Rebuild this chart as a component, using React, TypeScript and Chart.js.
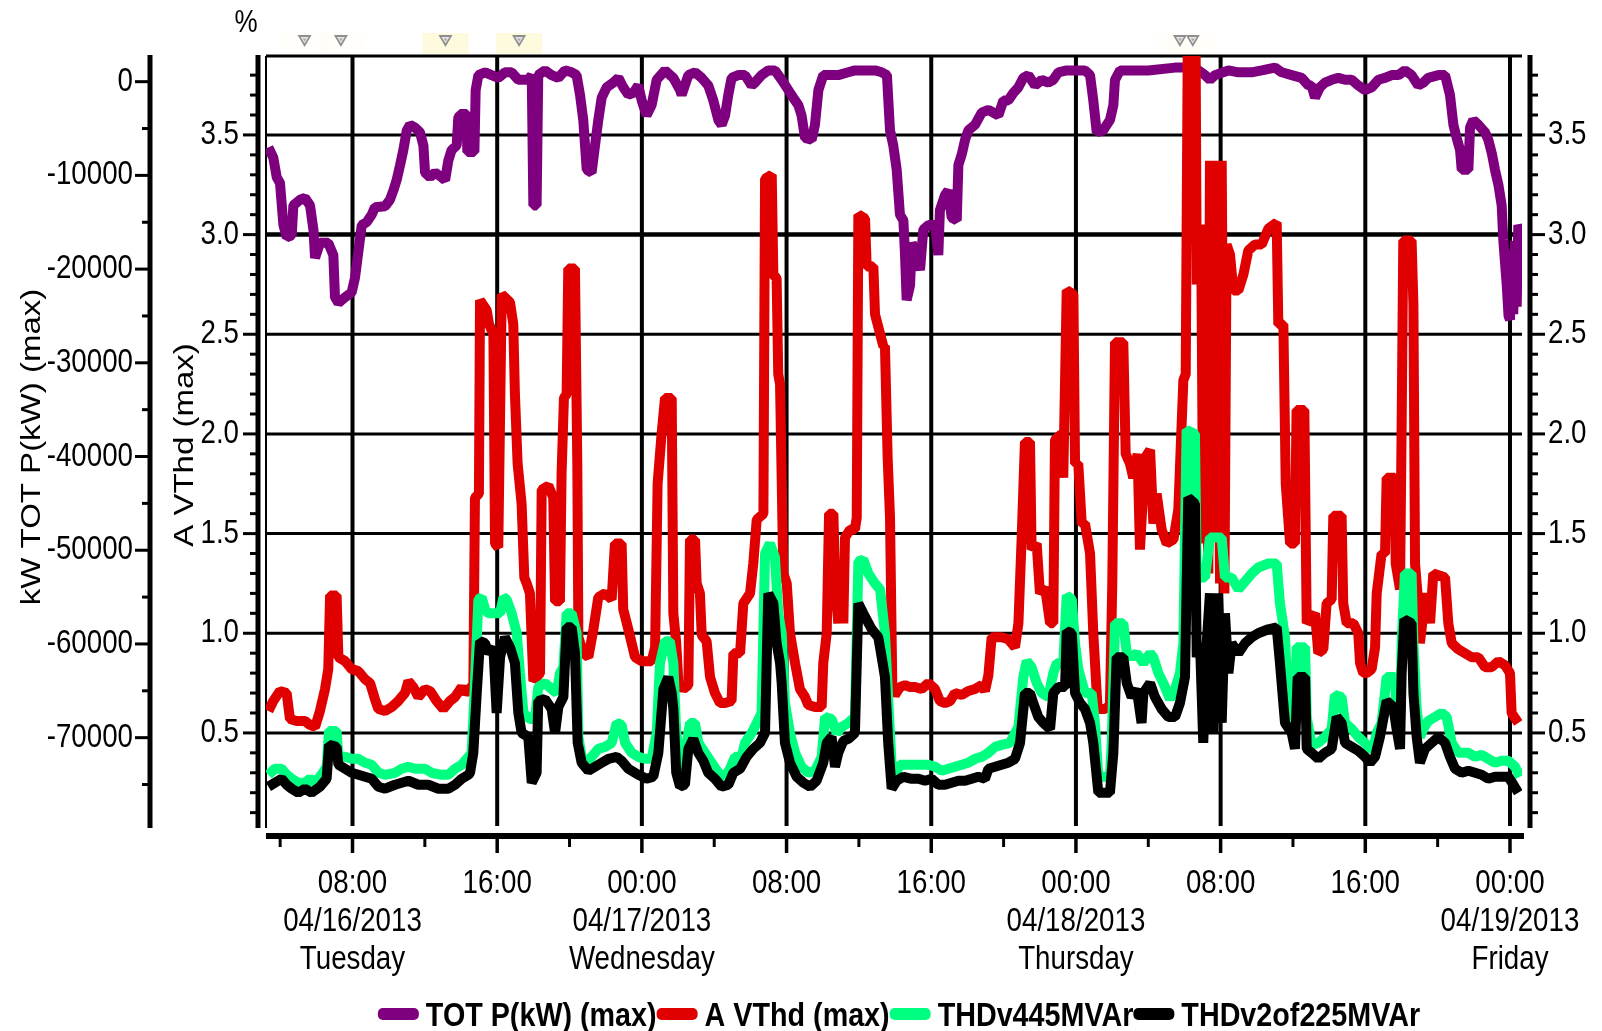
import React, { useEffect, useRef } from 'react';
import { Chart, registerables } from 'chart.js';

Chart.register(...registerables);

// Time values are hours counted from 04/16/2013 00:00.
const startYear = 2013;
const startMonth = 4;
const startDay = 16;
const weekdayNames = ['Sunday', 'Monday', 'Tuesday', 'Wednesday', 'Thursday', 'Friday', 'Saturday'];

const hourRange = [3.217, 72.664];
const kwRange = [-79640, 2740];
const pctRange = [0.023, 3.896];

const kwTickValues = [0, -10000, -20000, -30000, -40000, -50000, -60000, -70000];
const pctTickValues = [0.5, 1.0, 1.5, 2.0, 2.5, 3.0, 3.5];

const eventHours = [5.35, 7.36, 13.14, 17.21, 53.75, 54.46];
const eventHighlight = [0.12, 0.12, 1, 1, 0.15, 0.15];

const seriesNames = ['TOT P(kW) (max)', 'A VThd (max)', 'THDv445MVAr', 'THDv2of225MVAr'];
const seriesColors = ['#7f007f', '#e00000', '#00ff80', '#000000'];
const seriesWidth = 10;

// TOT P(kW) (max): [hour, kW]
const powerSamples: [number, number][] = [
  [3.35, -7000], [3.62, -8100], [3.81, -10200], [3.99, -10800], [4.18, -15300], [4.36, -16600],
  [4.64, -16400], [4.73, -13200], [5.10, -12600], [5.37, -12400], [5.65, -13200], [5.84, -15800],
  [5.93, -18800], [6.20, -17200], [6.66, -17200], [6.94, -18500], [7.03, -23000], [7.22, -23600],
  [7.59, -23000], [7.95, -22500], [8.14, -20900], [8.32, -18200], [8.51, -15300], [8.78, -15000],
  [9.06, -14200], [9.24, -13400], [9.80, -13300], [10.07, -12600], [10.26, -11600], [10.44, -10500],
  [10.63, -8900], [10.81, -7300], [11.00, -5200], [11.18, -4600], [11.46, -4900], [11.73, -5400],
  [11.92, -6800], [12.01, -9700], [12.29, -10200], [12.56, -9700], [12.93, -10200], [13.12, -10500],
  [13.30, -8400], [13.48, -7300], [13.76, -6800], [13.85, -3800], [14.13, -3300], [14.30, -3600],
  [14.35, -7500], [14.74, -7500], [14.81, -900], [14.96, 700], [15.33, 1000], [15.69, 700],
  [16.06, 400], [16.43, 1000], [16.80, 1000], [17.17, 200], [17.72, 200], [17.91, 700],
  [18.00, -13200], [18.18, -13200], [18.27, 700], [18.64, 1200], [19.01, 700], [19.38, 400],
  [19.75, 1200], [20.12, 1000], [20.39, 700], [20.58, -1400], [20.76, -4100], [20.95, -9400],
  [21.22, -9700], [21.41, -6800], [21.59, -4100], [21.78, -1700], [22.05, -600], [22.42, -100],
  [22.70, 400], [22.97, -600], [23.25, -1400], [23.53, -1200], [23.80, -400], [23.99, -2000],
  [24.26, -3600], [24.54, -2500], [24.82, 200], [25.28, 1200], [25.74, 400], [26.11, -900],
  [26.20, -1400], [26.57, 700], [26.94, 1000], [27.31, 400], [27.67, -400], [27.95, -2000],
  [28.23, -4100], [28.41, -4600], [28.60, -3600], [28.78, -1400], [28.96, 400], [29.33, 700],
  [29.70, 700], [30.07, -400], [30.25, -100], [30.62, 700], [30.99, 1200], [31.36, 1200],
  [31.73, 200], [32.10, -900], [32.47, -2000], [32.65, -2500], [32.83, -3600], [33.02, -6000],
  [33.39, -6200], [33.57, -4600], [33.76, -900], [34.03, 700], [34.49, 700], [34.86, 700],
  [35.41, 1000], [35.78, 1200], [36.15, 1200], [36.89, 1200], [37.26, 1000], [37.55, 700],
  [37.72, -5200], [37.90, -6800], [38.09, -9400], [38.27, -14200], [38.46, -14800], [38.55, -18500],
  [38.64, -23300], [38.83, -21700], [38.92, -17200], [39.19, -18500], [39.38, -20100], [39.56, -15800],
  [39.84, -15300], [40.21, -15300], [40.39, -18500], [40.48, -13700], [40.76, -12100], [40.94, -11600],
  [41.13, -14500], [41.41, -14800], [41.50, -8900], [41.68, -7800], [41.87, -6200], [42.05, -5200],
  [42.42, -4600], [42.79, -3300], [43.16, -3000], [43.71, -3600], [43.99, -2000], [44.26, -2000],
  [44.54, -1200], [44.82, -600], [45.09, 400], [45.37, 700], [45.74, -400], [46.11, 200],
  [46.47, -100], [46.75, 200], [47.03, 1000], [47.49, 1200], [47.95, 1200], [48.50, 1200],
  [48.78, 700], [48.96, -2000], [49.15, -5400], [49.50, -5200], [49.88, -4100], [50.07, -2500],
  [50.16, 200], [50.44, 1200], [50.90, 1200], [52.00, 1200], [53.48, 1500], [54.21, 1500],
  [54.77, 1200], [55.14, 700], [55.41, 200], [55.69, 700], [56.43, 1200], [56.98, 1000],
  [57.72, 1000], [58.27, 1200], [59.01, 1500], [59.38, 1000], [59.93, 700], [60.48, 400],
  [60.85, -400], [61.03, -400], [61.22, -1700], [61.49, -600], [61.77, -100], [62.14, 200],
  [62.51, 400], [62.88, 200], [63.25, 200], [63.61, -400], [63.98, -900], [64.35, -600],
  [64.72, 200], [65.09, 400], [65.46, 700], [65.83, 700], [66.19, 1200], [66.56, 700],
  [66.93, -400], [67.21, -100], [67.48, 400], [68.04, 700], [68.41, 700], [68.68, -1400],
  [68.87, -4600], [69.05, -6000], [69.24, -7300], [69.33, -9400], [69.70, -9400], [69.79, -4900],
  [69.97, -4100], [70.25, -4600], [70.62, -5400], [70.80, -6200], [70.99, -7600], [71.17, -9400],
  [71.36, -11000], [71.54, -13200], [71.63, -16900], [71.82, -21700], [71.92, -25000], [72.00, -25400],
  [72.09, -18000], [72.18, -24800], [72.28, -17000], [72.37, -24000], [72.46, -15300], [72.55, -15800],
];

// A VThd (max): [hour, %]
const vthdSamples: [number, number][] = [
  [3.35, 0.61], [3.62, 0.66], [3.99, 0.71], [4.36, 0.70], [4.54, 0.57], [4.91, 0.56],
  [5.37, 0.56], [5.65, 0.54], [5.93, 0.53], [6.20, 0.61], [6.48, 0.72], [6.66, 0.82],
  [6.76, 1.19], [7.12, 1.19], [7.22, 0.88], [7.59, 0.86], [7.95, 0.82], [8.32, 0.81],
  [8.69, 0.77], [8.97, 0.75], [9.24, 0.67], [9.43, 0.62], [9.80, 0.61], [10.17, 0.63],
  [10.53, 0.66], [10.90, 0.70], [11.09, 0.76], [11.36, 0.73], [11.64, 0.68], [12.01, 0.72],
  [12.29, 0.71], [12.65, 0.66], [13.02, 0.62], [13.39, 0.66], [13.67, 0.68], [14.04, 0.73],
  [14.22, 0.70], [14.68, 0.74], [14.77, 1.68], [14.99, 1.70], [15.05, 2.67], [15.42, 2.62],
  [15.55, 2.55], [15.79, 2.50], [15.88, 1.45], [16.06, 1.43], [16.25, 2.70], [16.71, 2.66],
  [16.89, 2.55], [16.98, 2.20], [17.13, 1.85], [17.35, 1.65], [17.50, 1.28], [17.63, 1.25],
  [17.81, 1.20], [18.00, 0.76], [18.37, 0.80], [18.46, 1.72], [18.83, 1.74], [19.10, 1.68],
  [19.20, 1.16], [19.47, 1.16], [19.56, 1.80], [19.69, 2.18], [19.84, 2.20], [19.93, 2.83],
  [20.30, 2.83], [20.43, 1.85], [20.49, 0.98], [20.76, 0.90], [21.04, 0.88], [21.32, 1.02],
  [21.59, 1.18], [21.96, 1.20], [22.33, 1.17], [22.51, 1.45], [22.88, 1.45], [22.97, 1.12],
  [23.25, 1.02], [23.62, 0.88], [23.99, 0.86], [24.54, 0.86], [24.73, 0.93], [24.87, 1.75],
  [25.09, 2.00], [25.28, 2.18], [25.65, 2.18], [25.74, 1.10], [25.90, 0.95], [26.02, 0.75],
  [26.29, 0.72], [26.57, 0.74], [26.66, 1.47], [26.94, 1.47], [27.03, 1.25], [27.21, 1.20],
  [27.31, 0.99], [27.58, 0.96], [27.77, 0.78], [28.04, 0.70], [28.32, 0.65], [28.60, 0.65],
  [28.96, 0.66], [29.06, 0.90], [29.43, 0.90], [29.61, 1.15], [29.98, 1.20], [30.16, 1.35],
  [30.35, 1.57], [30.72, 1.60], [30.81, 3.28], [31.18, 3.30], [31.27, 2.80], [31.45, 2.78],
  [31.54, 2.30], [31.64, 2.25], [31.82, 1.30], [32.01, 1.25], [32.19, 1.00], [32.47, 0.85],
  [32.74, 0.72], [33.02, 0.68], [33.20, 0.64], [33.57, 0.63], [33.94, 0.63], [34.03, 0.85],
  [34.22, 1.00], [34.35, 1.60], [34.59, 1.60], [34.68, 1.25], [34.86, 1.05], [34.95, 1.35],
  [35.14, 1.05], [35.23, 1.48], [35.51, 1.52], [35.78, 1.52], [35.88, 1.58], [35.97, 3.10],
  [36.34, 3.08], [36.43, 2.84], [36.80, 2.84], [36.89, 2.60], [37.35, 2.44], [37.44, 2.44],
  [37.59, 1.88], [37.72, 1.58], [37.85, 0.72], [37.99, 0.69], [38.27, 0.73], [38.55, 0.74],
  [38.83, 0.73], [39.10, 0.73], [39.47, 0.72], [39.84, 0.75], [40.21, 0.72], [40.48, 0.66],
  [40.76, 0.65], [41.04, 0.66], [41.31, 0.70], [41.68, 0.69], [42.05, 0.71], [42.42, 0.72],
  [42.79, 0.74], [42.97, 0.71], [43.16, 0.79], [43.34, 0.98], [43.89, 0.98], [44.26, 0.97],
  [44.63, 0.93], [44.82, 1.05], [45.00, 1.48], [45.18, 1.96], [45.46, 1.96], [45.55, 1.42],
  [45.83, 1.45], [46.01, 1.20], [46.29, 1.23], [46.57, 1.05], [46.75, 1.05], [46.84, 1.97],
  [47.21, 2.00], [47.30, 1.78], [47.49, 2.72], [47.86, 2.70], [47.95, 1.85], [48.13, 1.85],
  [48.32, 1.55], [48.50, 1.55], [48.78, 1.40], [48.96, 1.00], [49.20, 0.62], [49.61, 0.62],
  [49.88, 0.64], [50.01, 1.25], [50.16, 2.46], [50.62, 2.46], [50.75, 1.90], [50.99, 1.85],
  [51.17, 1.78], [51.41, 1.90], [51.54, 1.42], [51.82, 1.88], [52.10, 1.92], [52.28, 1.55],
  [52.46, 1.70], [52.74, 1.52], [53.02, 1.45], [53.39, 1.47], [53.66, 1.62], [53.94, 2.27],
  [54.07, 2.30], [54.18, 3.90], [54.62, 3.90], [54.68, 2.75], [54.92, 3.05], [55.04, 1.45],
  [55.14, 3.04], [55.32, 1.30], [55.41, 3.37], [55.60, 1.50], [55.78, 3.37], [55.97, 1.25],
  [56.06, 3.37], [56.21, 1.20], [56.33, 2.95], [56.52, 2.90], [56.70, 2.72], [56.98, 2.72],
  [57.26, 2.80], [57.53, 2.92], [57.90, 2.95], [58.27, 2.95], [58.64, 3.03], [59.10, 3.06],
  [59.19, 2.55], [59.47, 2.55], [59.60, 1.75], [59.84, 1.45], [60.11, 1.45], [60.20, 2.12],
  [60.63, 2.12], [60.76, 1.05], [61.22, 1.10], [61.40, 0.90], [61.68, 0.92], [61.86, 1.15],
  [62.14, 1.17], [62.23, 1.59], [62.69, 1.59], [62.78, 1.15], [62.97, 1.05], [63.34, 1.05],
  [63.61, 1.00], [63.71, 0.85], [63.89, 0.80], [64.08, 0.80], [64.35, 0.82], [64.54, 0.93],
  [64.63, 1.20], [64.90, 1.40], [65.09, 1.40], [65.18, 1.78], [65.64, 1.78], [65.68, 1.35],
  [65.92, 1.22], [66.01, 2.05], [66.10, 2.97], [66.56, 2.97], [66.66, 2.65], [66.75, 1.35],
  [66.93, 1.15], [67.02, 0.95], [67.21, 1.10], [67.39, 1.20], [67.58, 1.05], [67.76, 1.30],
  [68.41, 1.28], [68.59, 1.05], [68.78, 0.95], [69.14, 0.92], [69.51, 0.90], [69.88, 0.88],
  [70.25, 0.88], [70.62, 0.83], [70.99, 0.83], [71.36, 0.86], [71.72, 0.84], [72.00, 0.80],
  [72.09, 0.60], [72.46, 0.55],
];

// THDv445MVAr: [hour, %]
const thd445Samples: [number, number][] = [
  [3.35, 0.29], [3.71, 0.32], [4.08, 0.32], [4.36, 0.29], [4.64, 0.27], [5.00, 0.25],
  [5.37, 0.25], [5.65, 0.27], [5.93, 0.25], [6.29, 0.29], [6.57, 0.33], [6.70, 0.51],
  [7.12, 0.51], [7.22, 0.38], [7.59, 0.38], [7.95, 0.37], [8.32, 0.37], [8.69, 0.35],
  [9.06, 0.34], [9.43, 0.30], [9.80, 0.29], [10.35, 0.30], [10.72, 0.32], [11.09, 0.33],
  [11.46, 0.32], [12.01, 0.32], [12.38, 0.30], [12.93, 0.29], [13.30, 0.29], [13.67, 0.32],
  [14.04, 0.34], [14.41, 0.38], [14.59, 0.40], [14.77, 0.75], [14.96, 1.17], [15.14, 1.18],
  [15.33, 1.12], [15.51, 1.10], [15.88, 1.10], [16.16, 1.10], [16.34, 1.18], [16.52, 1.17],
  [16.80, 1.10], [17.08, 1.00], [17.26, 0.80], [17.45, 0.60], [17.81, 0.57], [18.09, 0.57],
  [18.27, 0.73], [18.64, 0.75], [19.01, 0.72], [19.29, 0.70], [19.47, 0.80], [19.66, 0.83],
  [19.84, 1.10], [20.12, 1.10], [20.39, 1.00], [20.49, 0.48], [20.67, 0.38], [20.95, 0.36],
  [21.22, 0.38], [21.59, 0.42], [21.96, 0.43], [22.33, 0.45], [22.61, 0.55], [22.88, 0.54],
  [23.07, 0.45], [23.44, 0.40], [23.80, 0.38], [24.17, 0.37], [24.54, 0.37], [24.82, 0.50],
  [25.00, 0.85], [25.28, 0.96], [25.55, 0.96], [25.74, 0.85], [25.90, 0.50], [26.11, 0.34],
  [26.29, 0.33], [26.48, 0.45], [26.66, 0.55], [26.94, 0.55], [27.12, 0.45], [27.49, 0.40],
  [27.86, 0.35], [28.23, 0.30], [28.60, 0.28], [28.87, 0.32], [29.15, 0.38], [29.52, 0.38],
  [29.70, 0.45], [30.07, 0.50], [30.35, 0.55], [30.62, 0.60], [30.81, 1.40], [31.08, 1.45],
  [31.36, 1.38], [31.54, 1.10], [31.73, 1.00], [31.91, 0.65], [32.19, 0.50], [32.47, 0.40],
  [32.83, 0.33], [33.20, 0.30], [33.57, 0.31], [33.94, 0.38], [34.13, 0.58], [34.49, 0.57],
  [34.77, 0.50], [35.05, 0.53], [35.41, 0.55], [35.78, 0.58], [35.97, 1.36], [36.24, 1.37],
  [36.52, 1.30], [36.89, 1.25], [37.17, 1.22], [37.44, 1.00], [37.66, 0.60], [37.81, 0.34],
  [37.99, 0.29], [38.27, 0.34], [38.73, 0.34], [39.29, 0.34], [39.84, 0.34], [40.21, 0.33],
  [40.58, 0.31], [40.94, 0.32], [41.31, 0.33], [41.68, 0.34], [42.05, 0.35], [42.42, 0.37],
  [42.79, 0.38], [43.16, 0.40], [43.53, 0.43], [43.89, 0.44], [44.35, 0.45], [44.82, 0.53],
  [45.09, 0.78], [45.28, 0.86], [45.55, 0.83], [45.83, 0.75], [46.11, 0.70], [46.47, 0.68],
  [46.75, 0.80], [46.94, 0.85], [47.30, 0.85], [47.49, 1.19], [47.77, 1.17], [47.95, 0.95],
  [48.13, 0.82], [48.50, 0.70], [48.87, 0.70], [49.05, 0.55], [49.24, 0.28], [49.88, 0.28],
  [49.98, 0.45], [50.16, 1.05], [50.62, 1.05], [50.81, 0.90], [51.08, 0.88], [51.36, 0.90],
  [51.73, 0.85], [52.10, 0.90], [52.28, 0.88], [52.56, 0.80], [52.83, 0.75], [53.20, 0.67],
  [53.48, 0.72], [53.75, 0.80], [53.94, 0.95], [54.12, 2.02], [54.58, 2.00], [54.68, 1.28],
  [55.14, 1.28], [55.41, 1.48], [56.06, 1.48], [56.24, 1.28], [56.61, 1.28], [56.98, 1.22],
  [57.35, 1.26], [57.72, 1.30], [58.08, 1.33], [58.64, 1.35], [59.10, 1.35], [59.28, 1.15],
  [59.56, 0.98], [59.74, 0.62], [60.11, 0.55], [60.20, 0.93], [60.67, 0.93], [60.76, 0.58],
  [61.03, 0.44], [61.40, 0.45], [61.77, 0.48], [62.14, 0.52], [62.32, 0.69], [62.69, 0.68],
  [62.88, 0.55], [63.25, 0.52], [63.61, 0.48], [63.98, 0.45], [64.26, 0.42], [64.44, 0.42],
  [64.63, 0.50], [64.90, 0.55], [65.18, 0.78], [65.64, 0.78], [65.73, 0.60], [65.92, 0.55],
  [66.01, 0.95], [66.19, 1.30], [66.56, 1.30], [66.66, 0.95], [66.84, 0.62], [67.02, 0.48],
  [67.21, 0.52], [67.48, 0.56], [67.85, 0.58], [68.22, 0.60], [68.50, 0.58], [68.78, 0.45],
  [69.14, 0.40], [69.70, 0.40], [70.07, 0.38], [70.43, 0.39], [70.80, 0.37], [71.17, 0.35],
  [71.54, 0.36], [71.91, 0.36], [72.28, 0.33], [72.55, 0.28],
];

// THDv2of225MVAr: [hour, %]
const thd225Samples: [number, number][] = [
  [3.35, 0.23], [3.71, 0.25], [4.08, 0.27], [4.36, 0.24], [4.64, 0.22], [5.00, 0.20],
  [5.37, 0.22], [5.74, 0.20], [6.20, 0.23], [6.57, 0.27], [6.70, 0.44], [7.12, 0.43],
  [7.22, 0.34], [7.59, 0.32], [7.95, 0.30], [8.32, 0.29], [8.69, 0.28], [9.06, 0.27],
  [9.43, 0.23], [9.80, 0.22], [10.35, 0.24], [10.72, 0.25], [11.09, 0.26], [11.64, 0.24],
  [12.19, 0.24], [12.75, 0.22], [13.30, 0.22], [13.67, 0.24], [14.04, 0.27], [14.41, 0.29],
  [14.50, 0.30], [14.68, 0.40], [14.87, 0.70], [15.05, 0.96], [15.33, 0.95], [15.51, 0.90],
  [15.79, 0.93], [15.97, 0.60], [16.16, 0.88], [16.43, 0.98], [16.71, 0.93], [16.98, 0.85],
  [17.17, 0.60], [17.35, 0.50], [17.72, 0.48], [17.91, 0.25], [18.18, 0.30], [18.27, 0.66],
  [18.64, 0.67], [19.01, 0.62], [19.20, 0.50], [19.38, 0.63], [19.66, 0.68], [19.84, 1.03],
  [20.12, 1.03], [20.30, 0.90], [20.45, 0.45], [20.67, 0.35], [21.04, 0.31], [21.41, 0.33],
  [21.78, 0.35], [22.15, 0.37], [22.61, 0.38], [22.88, 0.36], [23.25, 0.32], [23.80, 0.29],
  [24.26, 0.27], [24.63, 0.28], [24.91, 0.40], [25.19, 0.72], [25.46, 0.78], [25.65, 0.70],
  [25.74, 0.62], [25.90, 0.30], [26.11, 0.23], [26.38, 0.24], [26.57, 0.42], [26.84, 0.47],
  [27.12, 0.40], [27.40, 0.36], [27.67, 0.30], [28.04, 0.27], [28.41, 0.23], [28.78, 0.24],
  [29.06, 0.30], [29.43, 0.32], [29.79, 0.38], [30.16, 0.42], [30.53, 0.45], [30.81, 0.50],
  [30.99, 1.20], [31.27, 1.15], [31.45, 0.95], [31.64, 0.85], [31.73, 0.75], [31.91, 0.45],
  [32.19, 0.35], [32.56, 0.28], [32.93, 0.25], [33.30, 0.23], [33.66, 0.26], [34.03, 0.35],
  [34.22, 0.45], [34.49, 0.48], [34.68, 0.33], [34.86, 0.40], [35.14, 0.46], [35.41, 0.47],
  [35.78, 0.50], [35.97, 1.15], [36.24, 1.10], [36.71, 1.02], [37.07, 0.98], [37.26, 0.88],
  [37.44, 0.78], [37.62, 0.45], [37.81, 0.22], [38.09, 0.26], [38.46, 0.28], [38.92, 0.27],
  [39.29, 0.27], [39.66, 0.26], [40.02, 0.27], [40.39, 0.24], [40.76, 0.24], [41.13, 0.25],
  [41.50, 0.26], [41.87, 0.26], [42.24, 0.27], [42.60, 0.28], [42.97, 0.27], [43.16, 0.32],
  [43.53, 0.33], [43.89, 0.34], [44.26, 0.35], [44.63, 0.37], [44.91, 0.45], [45.18, 0.70],
  [45.46, 0.70], [45.64, 0.65], [45.92, 0.58], [46.20, 0.55], [46.57, 0.52], [46.75, 0.70],
  [47.03, 0.73], [47.40, 0.73], [47.49, 1.01], [47.77, 1.00], [47.95, 0.70], [48.23, 0.65],
  [48.50, 0.62], [48.78, 0.55], [48.96, 0.45], [49.24, 0.20], [49.88, 0.20], [50.07, 0.40],
  [50.25, 0.88], [50.62, 0.88], [50.81, 0.75], [51.08, 0.68], [51.36, 0.72], [51.63, 0.55],
  [51.73, 0.70], [52.10, 0.75], [52.37, 0.68], [52.74, 0.62], [53.11, 0.58], [53.48, 0.58],
  [53.75, 0.65], [54.03, 0.78], [54.21, 1.68], [54.58, 1.65], [54.68, 0.88], [54.86, 0.95],
  [55.04, 0.45], [55.23, 0.95], [55.41, 1.20], [55.60, 0.50], [55.87, 1.20], [56.06, 0.55],
  [56.24, 1.10], [56.43, 0.80], [56.61, 0.95], [56.98, 0.90], [57.35, 0.95], [57.72, 0.98],
  [58.08, 1.00], [58.64, 1.02], [59.10, 1.03], [59.28, 0.85], [59.56, 0.55], [59.93, 0.50],
  [60.11, 0.42], [60.26, 0.78], [60.67, 0.78], [60.76, 0.42], [61.03, 0.40], [61.40, 0.37],
  [61.77, 0.40], [62.14, 0.42], [62.42, 0.58], [62.69, 0.55], [62.88, 0.45], [63.25, 0.43],
  [63.61, 0.41], [63.98, 0.38], [64.26, 0.35], [64.54, 0.38], [64.81, 0.48], [65.18, 0.66],
  [65.55, 0.63], [65.73, 0.52], [65.92, 0.42], [66.01, 0.80], [66.16, 1.07], [66.56, 1.05],
  [66.66, 0.70], [66.84, 0.48], [67.02, 0.35], [67.30, 0.42], [67.67, 0.45], [68.04, 0.48],
  [68.41, 0.45], [68.68, 0.38], [68.96, 0.32], [69.33, 0.30], [69.70, 0.31], [70.07, 0.30],
  [70.43, 0.29], [70.80, 0.27], [71.17, 0.28], [71.54, 0.28], [71.91, 0.28], [72.19, 0.24],
  [72.46, 0.20],
];

const FONT = "'Liberation Sans', Arimo, Arial, sans-serif";
const SQUEEZE = 0.84;

function drawText(ctx: CanvasRenderingContext2D, text: string, x: number, y: number, size: number,
  align: CanvasTextAlign, baseline: CanvasTextBaseline = 'alphabetic', bold = false, sx = SQUEEZE) {
  ctx.save();
  ctx.translate(x, y);
  ctx.scale(sx, 1);
  ctx.font = `${bold ? 'bold ' : ''}${size}px ${FONT}`;
  ctx.textAlign = align;
  ctx.textBaseline = baseline;
  ctx.fillStyle = '#000';
  ctx.fillText(text, 0, 0);
  ctx.restore();
}

function drawVerticalText(ctx: CanvasRenderingContext2D, text: string, x: number, y: number, size: number) {
  ctx.save();
  ctx.translate(x, y);
  ctx.scale(SQUEEZE, 1);
  ctx.rotate(-Math.PI / 2);
  ctx.font = `${size}px ${FONT}`;
  ctx.textAlign = 'center';
  ctx.textBaseline = 'alphabetic';
  ctx.fillStyle = '#000';
  ctx.fillText(text, 0, 0);
  ctx.restore();
}

function seg(ctx: CanvasRenderingContext2D, x1: number, y1: number, x2: number, y2: number, w: number) {
  ctx.lineWidth = w;
  ctx.beginPath();
  ctx.moveTo(x1, y1);
  ctx.lineTo(x2, y2);
  ctx.stroke();
}

function roundedBox(ctx: CanvasRenderingContext2D, x: number, y: number, w: number, h: number, r: number) {
  ctx.beginPath();
  ctx.moveTo(x + r, y);
  ctx.lineTo(x + w - r, y);
  ctx.arcTo(x + w, y, x + w, y + r, r);
  ctx.lineTo(x + w, y + h - r);
  ctx.arcTo(x + w, y + h, x + w - r, y + h, r);
  ctx.lineTo(x + r, y + h);
  ctx.arcTo(x, y + h, x, y + h - r, r);
  ctx.lineTo(x, y + r);
  ctx.arcTo(x, y, x + r, y, r);
  ctx.closePath();
}

const pad2 = (n: number) => String(n).padStart(2, '0');

const framePlugin = {
  id: 'pqFrame',
  beforeDatasetsDraw(chart: any) {
    const { ctx, chartArea: a, scales } = chart;
    const xs = scales.x;
    const ps = scales.pct;
    ctx.save();
    ctx.strokeStyle = '#000';
    ctx.lineCap = 'butt';
    // horizontal grid on the % scale
    pctTickValues.forEach((v) => {
      const y = ps.getPixelForValue(v);
      seg(ctx, a.left, y, a.right, y, v === 3 ? 4.5 : 3);
    });
    // plot frame
    seg(ctx, a.left, a.top, a.right, a.top, 3);
    seg(ctx, a.left, a.top, a.left, a.bottom, 2);
    // vertical grid every 8 hours
    for (let h = Math.ceil(xs.min / 8) * 8; h <= xs.max; h += 8) {
      const x = xs.getPixelForValue(h);
      seg(ctx, x, a.top, x, a.bottom - 2, 4);
    }
    ctx.restore();
  },
  afterDatasetsDraw(chart: any) {
    const { ctx, chartArea: a, scales } = chart;
    const xs = scales.x;
    const ps = scales.pct;
    const ks = scales.kw;
    ctx.save();
    ctx.strokeStyle = '#000';
    ctx.lineCap = 'butt';

    // kW axis (outer left)
    const kwX = 150;
    seg(ctx, kwX, a.top - 1, kwX, a.bottom, 5);
    for (let v = 0; v >= -75000; v -= 5000) {
      const y = ks.getPixelForValue(v);
      const major = kwTickValues.includes(v);
      seg(ctx, kwX - (major ? 15 : 8), y, kwX, y, 3);
    }
    kwTickValues.forEach((v) => {
      drawText(ctx, String(v), kwX - 17, ks.getPixelForValue(v), 33, 'right', 'middle');
    });

    // % axis (inner left) and mirrored % axis on the right
    const pL = 258;
    const pR = 1530;
    seg(ctx, pL, a.top - 1, pL, a.bottom, 5);
    seg(ctx, pR, a.top - 1, pR, a.bottom, 5);
    for (let i = 1; i <= 38; i++) {
      const v = i / 10;
      const y = ps.getPixelForValue(v);
      const major = i % 5 === 0;
      seg(ctx, pL - (major ? 15 : 8), y, pL, y, 3);
      seg(ctx, pR, y, pR + (major ? 15 : 8), y, 3);
    }
    pctTickValues.forEach((v) => {
      const y = ps.getPixelForValue(v);
      drawText(ctx, v.toFixed(1), pL - 19, y, 33, 'right', 'middle');
      drawText(ctx, v.toFixed(1), pR + 18, y, 33, 'left', 'middle');
    });

    // time axis
    const axY = 836;
    seg(ctx, a.left, axY, a.right + 2, axY, 6);
    let firstMajor = true;
    for (let h = Math.ceil(xs.min / 4) * 4; h <= xs.max; h += 4) {
      const x = xs.getPixelForValue(h);
      const major = h % 8 === 0;
      seg(ctx, x, axY, x, axY + (major ? 17 : 11), major ? 3.5 : 3);
      if (!major) continue;
      const hh = h % 24;
      drawText(ctx, `${pad2(hh)}:00`, x, 893, 33, 'center');
      if (hh === 0 || firstMajor) {
        const d = new Date(startYear, startMonth - 1, startDay + Math.floor(h / 24));
        drawText(ctx, `${pad2(d.getMonth() + 1)}/${pad2(d.getDate())}/${d.getFullYear()}`, x, 931, 33, 'center');
        drawText(ctx, weekdayNames[d.getDay()], x, 969, 33, 'center');
      }
      firstMajor = false;
    }

    // axis titles
    drawVerticalText(ctx, 'kW TOT P(kW) (max)', 40, 447, 33);
    drawVerticalText(ctx, 'A VThd (max)', 193, 445, 33);
    drawText(ctx, '%', 246, 32, 31, 'center');

    // event markers above the plot
    eventHours.forEach((h, i) => {
      const x = xs.getPixelForValue(h);
      const alpha = eventHighlight[i];
      ctx.fillStyle = `rgba(252, 246, 190, ${0.5 * alpha})`;
      ctx.fillRect(x - 23, 33, 46, 21);
    });
    eventHours.forEach((h) => {
      const x = xs.getPixelForValue(h);
      ctx.fillStyle = '#8e8e8e';
      ctx.beginPath();
      ctx.moveTo(x - 7, 35);
      ctx.lineTo(x + 7, 35);
      ctx.lineTo(x, 47);
      ctx.closePath();
      ctx.fill();
      ctx.fillStyle = '#e6e6e6';
      ctx.beginPath();
      ctx.moveTo(x - 4, 37);
      ctx.lineTo(x + 4, 37);
      ctx.lineTo(x, 43.5);
      ctx.closePath();
      ctx.fill();
      ctx.fillStyle = '#a8a8a8';
      ctx.beginPath();
      ctx.moveTo(x - 1.8, 38.5);
      ctx.lineTo(x + 1.8, 38.5);
      ctx.lineTo(x, 41.5);
      ctx.closePath();
      ctx.fill();
    });

    // legend
    const lsq = 0.87;
    ctx.font = `bold 33px ${FONT}`;
    const widths = chart.data.datasets.map((ds: any) => ctx.measureText(ds.label).width * lsq);
    const swW = 41;
    const textOff = 48;
    const total = widths.reduce((s: number, w: number) => s + textOff + w, 0);
    let lx = (a.left + a.right) / 2 + 5 - total / 2;
    chart.data.datasets.forEach((ds: any, i: number) => {
      ctx.fillStyle = ds.borderColor;
      roundedBox(ctx, lx, 1008, swW, 12, 5);
      ctx.fill();
      drawText(ctx, ds.label, lx + textOff, 1026, 33, 'left', 'alphabetic', true, lsq);
      lx += textOff + widths[i];
    });
    ctx.restore();
  },
};

const toPoints = (samples: [number, number][]) => samples.map(([x, y]) => ({ x, y }));

export default function App() {
  const canvasRef = useRef<HTMLCanvasElement | null>(null);

  useEffect(() => {
    const canvas = canvasRef.current;
    if (!canvas) return;
    const makeSeries = (i: number, samples: [number, number][], axis: string) => ({
      label: seriesNames[i],
      data: toPoints(samples),
      yAxisID: axis,
      borderColor: seriesColors[i],
      backgroundColor: seriesColors[i],
      borderWidth: seriesWidth,
      order: 4 - i,
      pointRadius: 0,
      tension: 0,
      fill: false,
      borderJoinStyle: 'bevel',
      borderCapStyle: 'butt',
    });
    const chart = new Chart(canvas, {
      type: 'line',
      data: {
        datasets: [
          makeSeries(0, powerSamples, 'kw'),
          makeSeries(1, vthdSamples, 'pct'),
          makeSeries(2, thd445Samples, 'pct'),
          makeSeries(3, thd225Samples, 'pct'),
        ],
      },
      options: {
        responsive: false,
        animation: false,
        devicePixelRatio: 1,
        events: [],
        elements: { line: { borderWidth: seriesWidth } },
        layout: { padding: { left: 266, top: 56, right: 80, bottom: 203 } },
        plugins: { legend: { display: false }, tooltip: { enabled: false }, title: { display: false } },
        scales: {
          x: { type: 'linear', min: hourRange[0], max: hourRange[1], display: false },
          kw: { type: 'linear', position: 'left', min: kwRange[0], max: kwRange[1], display: false },
          pct: { type: 'linear', position: 'left', min: pctRange[0], max: pctRange[1], display: false },
        },
      },
      plugins: [framePlugin],
    });
    return () => chart.destroy();
  }, []);

  return (
    <div style={{ position: 'absolute', left: 0, top: 0, width: 1602, height: 1031, background: '#fff' }}>
      <canvas ref={canvasRef} width={1602} height={1031} style={{ display: 'block' }} />
    </div>
  );
}
